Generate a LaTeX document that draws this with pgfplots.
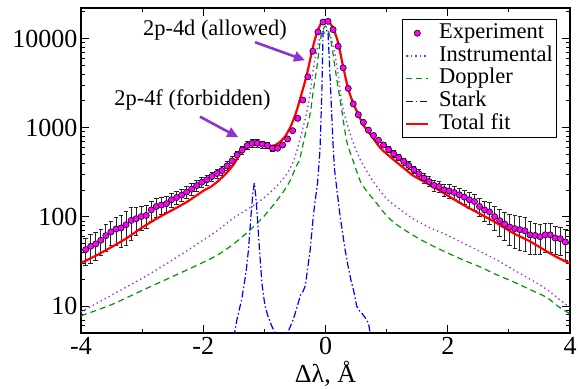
\documentclass[border=0pt]{standalone}
\usepackage{fontspec}
\setmainfont{Liberation Serif}
\usepackage{pgfplots}
\pgfplotsset{compat=1.18}
\usetikzlibrary{arrows.meta}
\definecolor{expmag}{RGB}{255,0,255}
\definecolor{instr}{RGB}{160,40,230}
\definecolor{dopp}{RGB}{0,150,0}
\definecolor{stark}{RGB}{0,0,255}
\definecolor{fit}{RGB}{255,0,0}
\definecolor{arr}{RGB}{145,50,205}

\begin{document}
\begin{tikzpicture}
\begin{axis}[
 scale only axis, width=489bp, height=325bp,
 xmin=-4, xmax=4, ymode=log, ymin=5, ymax=22000,
 xtick={-4,-2,0,2,4}, xticklabels={-4,-2,0,2,4},
 minor xtick={-3,-1,1,3},
 ytick={10,100,1000,10000}, yticklabels={10,100,1000,10000},
 minor ytick={6,7,8,9,20,30,40,50,60,70,80,90,200,300,400,500,600,700,800,900,2000,3000,4000,5000,6000,7000,8000,9000,20000},
 tick align=inside,
 major tick length=8bp, minor tick length=4.5bp,
 every tick/.style={black, line width=0.9bp},
 axis line style={line width=1.1bp},
 tick label style={font=\fontsize{26bp}{30bp}\selectfont},
 yticklabel style={inner sep=0pt, xshift=-3.5bp},
 xticklabel style={inner sep=0pt, yshift=-4bp},
 xlabel={Δλ, Å},
 xlabel style={at={(axis description cs:0.5,0)}, anchor=north, inner sep=0pt, yshift=-28bp, font=\fontsize{26bp}{30bp}\selectfont},
 legend style={at={(rel axis cs:0.973,0.965)}, anchor=north east, draw=black, line width=0.9bp, fill=white,
   inner xsep=3bp, inner ysep=2bp, font=\fontsize{22.5bp}{24bp}\selectfont,
   nodes={inner sep=0.6bp, text depth=5.5bp, text height=16bp},
   /tikz/every odd column/.append style={column sep=9bp}},
 legend cell align=left,
 legend image code/.code={\draw[mark repeat=2,mark phase=2,#1] plot coordinates {(0bp,0bp) (11bp,0bp) (22bp,0bp)};},
]
\coordinate (sw) at (rel axis cs:0,0);
\coordinate (ne) at (rel axis cs:1,1);

% Experiment
\addplot[only marks, mark=*, mark size=3.1bp,
  mark options={fill=expmag, draw=black, line width=0.6bp},
  error bars/.cd, y dir=both, y explicit relative,
  error bar style={line width=0.8bp, black!85},
  error mark options={rotate=90, mark size=2.3bp, line width=0.8bp, black!85}]
 table[x=x, y=y, y error=e] {
x y e
-3.924 43 0.33
-3.841 46.9 0.35
-3.759 49.8 0.35
-3.676 54.7 0.33
-3.594 61.7 0.33
-3.511 67.9 0.30
-3.428 73.3 0.35
-3.346 75.2 0.40
-3.263 81.8 0.42
-3.180 91.4 0.40
-3.098 95.5 0.35
-3.015 101 0.30
-2.933 104 0.28
-2.850 120 0.25
-2.767 131 0.24
-2.685 136 0.22
-2.602 141 0.20
-2.520 156 0.18
-2.437 165 0.17
-2.354 176 0.16
-2.272 190 0.15
-2.189 205 0.15
-2.107 225 0.14
-2.024 245 0.13
-1.941 261 0.13
-1.859 284 0.12
-1.776 307 0.12
-1.694 331 0.12
-1.611 374 0.12
-1.528 425 0.11
-1.446 496 0.10
-1.363 564 0.10
-1.281 631 0.10
-1.198 670 0.10
-1.115 670 0.10
-1.033 653 0.09
-0.950 631 0.08
-0.868 589 0.07
-0.785 589 0.06
-0.702 641 0.05
-0.620 749 0.05
-0.537 927 0.04
-0.454 1275 0.03
-0.372 2044 0.03
-0.289 3723 0.02
-0.207 7210 0.02
-0.124 11850 0.02
-0.041 15300 0.02
0.041 15600 0.02
0.124 12600 0.02
0.207 8200 0.02
0.289 4700 0.02
0.372 2760 0.03
0.454 1850 0.03
0.537 1400 0.04
0.620 1150 0.04
0.702 940 0.05
0.785 820 0.05
0.867 725 0.06
0.950 640 0.06
1.033 570 0.07
1.115 512 0.08
1.198 465 0.08
1.280 420 0.09
1.363 378 0.10
1.445 338 0.10
1.528 305 0.11
1.611 273 0.12
1.693 250 0.13
1.776 226 0.14
1.858 219 0.15
1.941 201 0.16
2.024 196 0.17
2.106 188 0.17
2.189 177 0.18
2.271 167 0.18
2.354 156 0.20
2.437 149 0.20
2.519 131 0.22
2.602 120 0.25
2.684 114 0.28
2.767 101 0.30
2.850 91 0.33
2.932 83 0.35
3.015 77 0.38
3.097 74 0.40
3.180 72 0.42
3.263 70 0.42
3.345 63 0.40
3.428 62 0.38
3.510 60 0.36
3.593 63 0.36
3.676 63 0.36
3.758 58 0.35
3.841 57 0.35
3.924 52.5 0.38
};
\addlegendentry{Experiment}

% Instrumental
\addplot[instr, line width=1.4bp, dash pattern=on 1.3bp off 3.2bp, smooth] table {
-4.00 8.6
-3.50 13.3
-3.00 20.5
-2.50 33
-2.00 55
-1.75 72
-1.50 98
-1.25 125
-1.00 165
-0.75 240
-0.60 330
-0.50 470
-0.42 730
-0.36 1050
-0.31 1460
-0.25 2500
-0.20 4500
-0.15 7000
-0.10 9800
-0.05 11300
0.00 11600
0.05 11300
0.10 9800
0.15 7000
0.20 4300
0.25 2300
0.30 1500
0.40 870
0.50 560
0.60 400
0.73 282
0.85 215
1.00 160
1.25 117
1.44 95
1.70 76
1.98 63
2.25 51
2.53 41
2.80 33
3.07 25.7
3.35 20
3.62 15.4
3.80 12.3
4.00 9.6
};
\addlegendentry{Instrumental}

% Doppler
\addplot[dopp, line width=1.2bp, dash pattern=on 6bp off 4bp, smooth] table {
-4.00 7.8
-3.50 10.4
-3.00 15
-2.50 21.5
-2.00 31
-1.75 38
-1.50 50
-1.25 70
-1.00 103
-0.75 168
-0.60 240
-0.47 380
-0.42 450
-0.33 850
-0.25 1450
-0.20 2600
-0.14 4800
-0.10 8000
-0.06 11500
0.00 13800
0.06 11500
0.10 8500
0.155 4790
0.20 3000
0.24 2040
0.32 900
0.36 650
0.455 420
0.56 261
0.62 219
0.73 175
0.89 128
1.00 103
1.165 82
1.44 62
1.71 49
1.98 40
2.25 33
2.53 27.5
2.80 22.5
3.07 18.8
3.35 15.3
3.62 12.5
3.80 10
4.00 8.2
};
\addlegendentry{Doppler}

% Stark
\addplot[stark, line width=1.2bp, dash pattern=on 7bp off 2.5bp on 1.5bp off 2.5bp] table {
-1.50 4.5
-1.45 7
-1.37 12
-1.30 24
-1.26 43
-1.22 101
-1.19 180
-1.165 240
-1.14 170
-1.115 101
-1.08 43
-1.04 18
-0.99 10
-0.94 7.7
-0.88 6.0
-0.83 5.1
-0.75 4.7
-0.68 4.8
-0.61 5.2
-0.53 7.0
-0.46 10
-0.41 13.3
-0.37 14.5
-0.33 17
-0.30 24
-0.25 43
-0.20 101
-0.16 170
-0.13 240
-0.09 563
-0.06 2500
-0.04 12000
0.00 12500
0.04 12000
0.07 4500
0.10 1500
0.128 563
0.15 330
0.18 220
0.24 101
0.32 43
0.37 28
0.42 19
0.46 15
0.51 10
0.56 8.8
0.59 8.4
0.65 7.4
0.70 6.5
0.73 5.1
0.76 4
};
\addlegendentry{Stark}

% Total fit
\addplot[fit, line width=2.2bp, smooth] table {
-4.00 30.5
-3.75 37
-3.50 46
-3.25 58
-3.00 76
-2.75 97
-2.50 120
-2.25 150
-2.00 196
-1.875 218
-1.75 255
-1.625 308
-1.50 390
-1.40 510
-1.30 625
-1.22 685
-1.15 698
-1.08 682
-1.00 650
-0.90 625
-0.82 640
-0.74 698
-0.66 800
-0.58 1000
-0.52 1250
-0.46 1650
-0.40 2300
-0.34 3200
-0.28 4700
-0.22 7300
-0.16 10500
-0.10 13600
-0.05 15500
0.00 16000
0.05 15400
0.10 14000
0.15 11800
0.21 8800
0.29 4790
0.37 2760
0.455 1875
0.56 1300
0.62 1070
0.73 850
0.89 600
1.00 510
1.165 410
1.30 345
1.44 289
1.71 229
1.98 177
2.25 137
2.53 108
2.80 85.5
3.07 66
3.35 53
3.62 41
3.80 35
4.00 30
};
\addlegendentry{Total fit}

\node[font=\fontsize{22.4bp}{24bp}\selectfont] at (axis cs:-1.808,12400) {2p-4d (allowed)};
\node[font=\fontsize{22.4bp}{24bp}\selectfont] at (axis cs:-2.176,2040) {2p-4f (forbidden)};
\draw[arr, line width=2.6bp, -{Triangle[length=11bp,width=10bp]}] (axis cs:-1.153,9100) -- (axis cs:-0.335,5710);
\draw[arr, line width=2.6bp, -{Triangle[length=11bp,width=10bp]}] (axis cs:-2.053,1330) -- (axis cs:-1.427,782);
\end{axis}
\pgfresetboundingbox
\path[use as bounding box] ([shift={(-81bp,-56bp)}]sw) rectangle ([shift={(8bp,8bp)}]ne);
\end{tikzpicture}
\end{document}
